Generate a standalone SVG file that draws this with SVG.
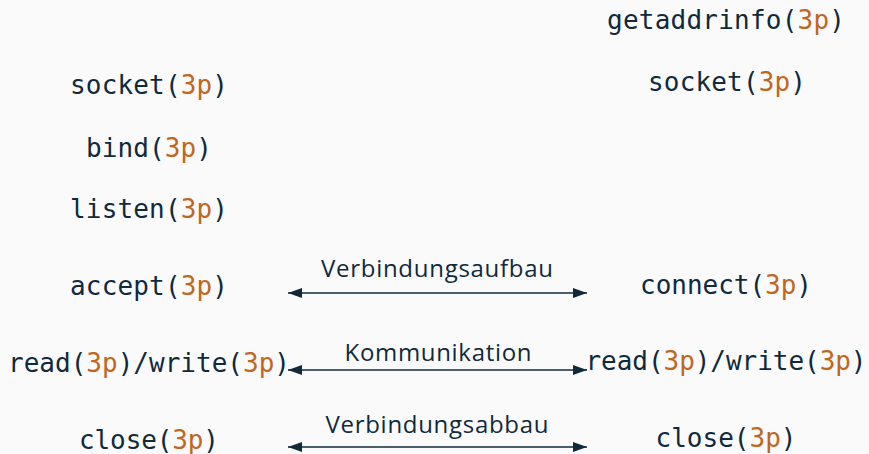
<svg xmlns="http://www.w3.org/2000/svg" width="869" height="454" viewBox="0 0 869 454">
<style>
.f{font-family:"DejaVu Sans Mono","Liberation Mono",monospace;font-size:26px;fill:#102a3c;text-anchor:middle}
.o{fill:#c0661f}
.l{font-family:"Open Sans","Noto Sans",sans-serif;font-size:24px;fill:#102a3c;text-anchor:middle}
.c{stroke:#102a3c;stroke-width:1.5;fill:none;marker-start:url(#a);marker-end:url(#a)}
</style>
<defs>
<marker id="a" viewBox="0 0 14 10" refX="14" refY="5" markerWidth="14" markerHeight="10" markerUnits="userSpaceOnUse" orient="auto-start-reverse">
<path d="M0,0 L14,5 L0,10 Z" fill="#102a3c"/>
</marker>
</defs>
<rect width="869" height="454" fill="#fafafa"/>
<g id="getaddrinfo"><text class="f" x="726" y="29" textLength="238">getaddrinfo(<tspan class="o">3p</tspan>)</text></g>
<g id="socket-client"><text class="f" x="727" y="91" textLength="158">socket(<tspan class="o">3p</tspan>)</text></g>
<g id="socket-server"><text class="f" x="149" y="94" textLength="158">socket(<tspan class="o">3p</tspan>)</text></g>
<g id="bind"><text class="f" x="149" y="157" textLength="126">bind(<tspan class="o">3p</tspan>)</text></g>
<g id="listen"><text class="f" x="149" y="218" textLength="158">listen(<tspan class="o">3p</tspan>)</text></g>
<g id="accept"><text class="f" x="149" y="295" textLength="158">accept(<tspan class="o">3p</tspan>)</text></g>
<g id="connect"><text class="f" x="726" y="294" textLength="172">connect(<tspan class="o">3p</tspan>)</text></g>
<g id="rw-server"><text class="f" x="149" y="372" textLength="282">read(<tspan class="o">3p</tspan>)/write(<tspan class="o">3p</tspan>)</text></g>
<g id="rw-client"><text class="f" x="726" y="370" textLength="281">read(<tspan class="o">3p</tspan>)/write(<tspan class="o">3p</tspan>)</text></g>
<g id="close-server"><text class="f" x="149" y="449" textLength="140">close(<tspan class="o">3p</tspan>)</text></g>
<g id="close-client"><text class="f" x="726" y="447" textLength="141">close(<tspan class="o">3p</tspan>)</text></g>
<g id="connectors">
<line class="c" x1="288" y1="293" x2="587" y2="293"/>
<text class="l" x="437" y="277" textLength="232">Verbindungsaufbau</text>
<line class="c" x1="288" y1="370" x2="587" y2="370"/>
<text class="l" x="438" y="361" textLength="187">Kommunikation</text>
<line class="c" x1="288" y1="447" x2="587" y2="447"/>
<text class="l" x="437" y="433" textLength="223">Verbindungsabbau</text>
</g>
</svg>
